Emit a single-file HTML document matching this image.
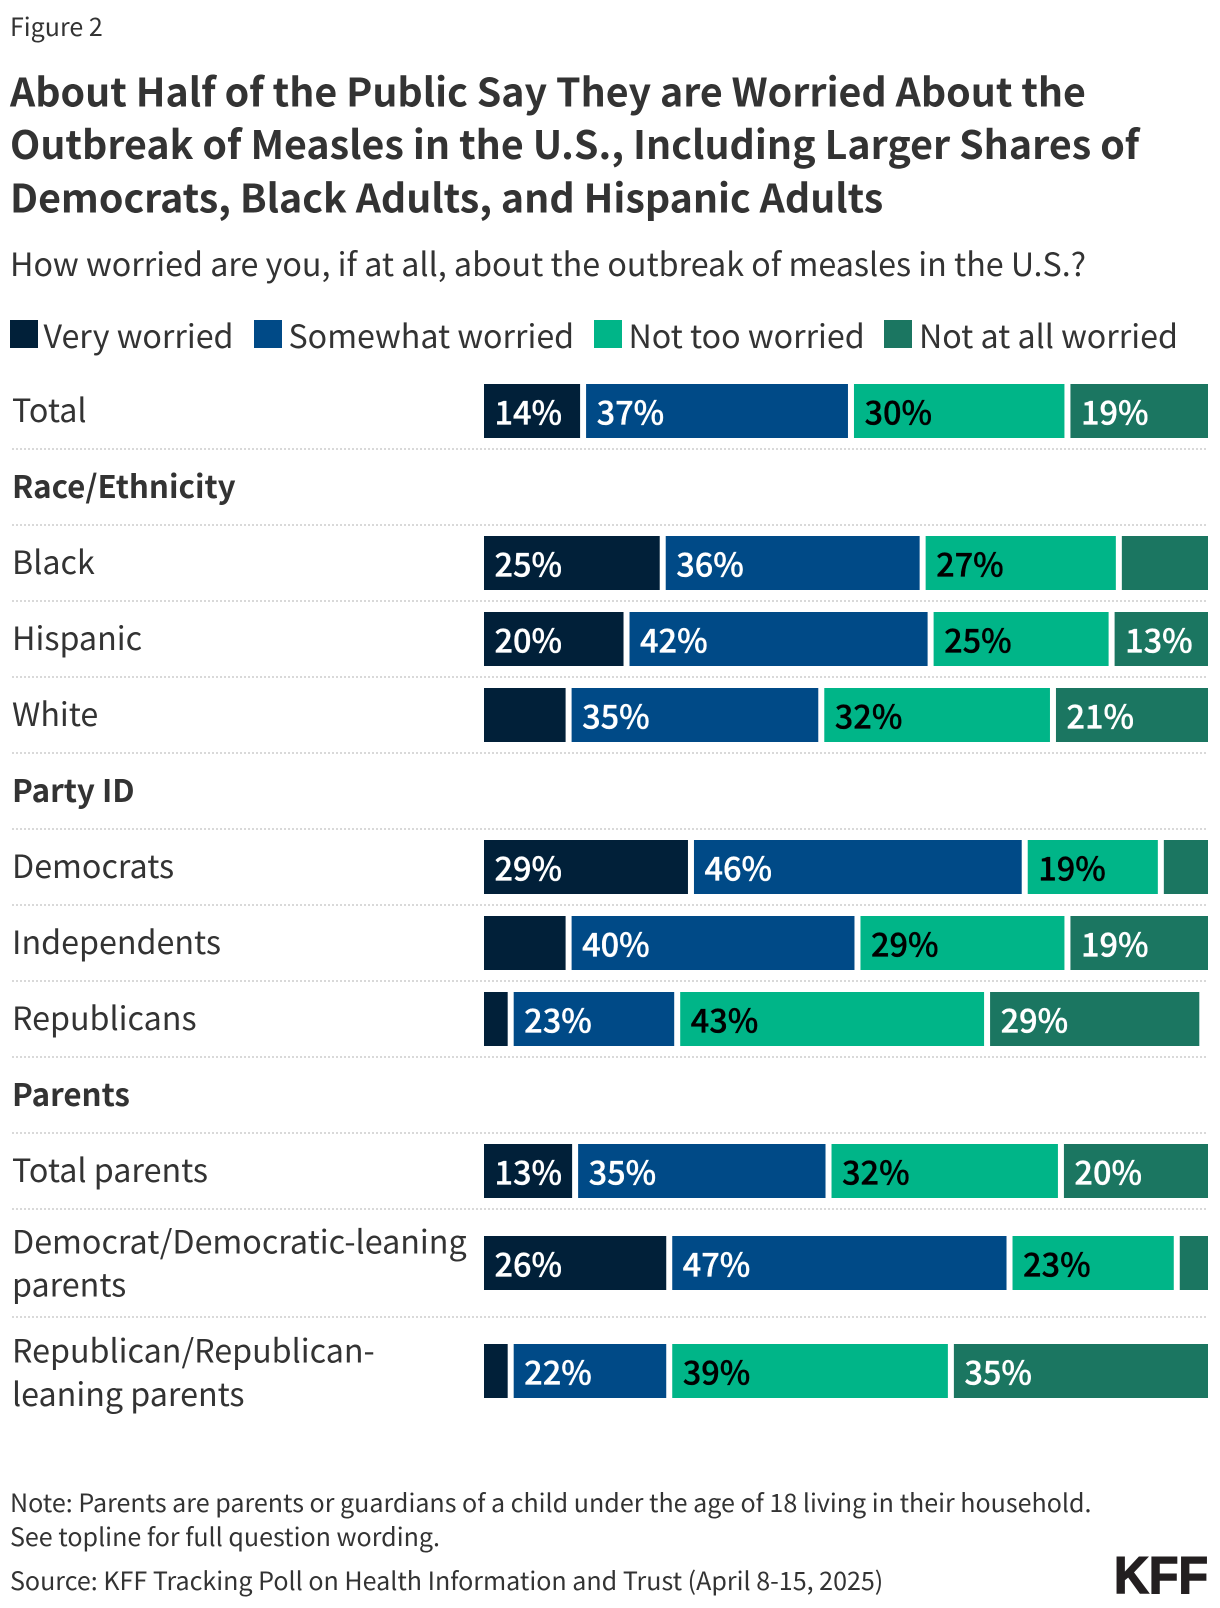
<!DOCTYPE html>
<html lang="en">
<head>
<meta charset="utf-8">
<title>About Half of the Public Say They are Worried About the Outbreak of Measles</title>
<style>
  html, body { margin: 0; padding: 0; background: #fff; }
  svg { display: block; }
  text { font-family: "Noto Sans CJK JP", "Liberation Sans", sans-serif; fill: #333; }
  .title { font-size: 39.35px; font-weight: 700; }
  .subtitle { font-size: 32.25px; font-weight: 400; }
  .legend { font-size: 32.2px; font-weight: 400; }
  .row { font-size: 32.25px; font-weight: 400; }
  .head { font-size: 31.3px; font-weight: 700; }
  .value { font-size: 32.5px; font-weight: 500; stroke-width: 0.35px; }
  .note { font-size: 25.05px; font-weight: 400; }
</style>
</head>
<body>
<svg id="chart" xmlns="http://www.w3.org/2000/svg" width="1220" height="1608" viewBox="0 0 1220 1608">
  <rect x="0" y="0" width="1220" height="1608" fill="#ffffff"/>
  <text x="10" y="36" font-size="25">Figure 2</text>
  <g>
    <text class="title" x="10" y="106.5">About Half of the Public Say They are Worried About the</text>
    <text class="title" x="10" y="159" letter-spacing="0.03">Outbreak of Measles in the U.S., Including Larger Shares of</text>
    <text class="title" x="10" y="212.5">Democrats, Black Adults, and Hispanic Adults</text>
  </g>
  <text class="subtitle" x="10" y="276">How worried are you, if at all, about the outbreak of measles in the U.S.?</text>

  <g>
    <rect x="10" y="320" width="28" height="28" fill="#012039"/>
    <text class="legend" x="43.5" y="348">Very worried</text>
    <rect x="254" y="320" width="28" height="28" fill="#004A87"/>
    <text class="legend" x="288.5" y="348">Somewhat worried</text>
    <rect x="594" y="320" width="28" height="28" fill="#00B588"/>
    <text class="legend" x="628.5" y="348">Not too worried</text>
    <rect x="884" y="320" width="28" height="28" fill="#1B7661"/>
    <text class="legend" x="919" y="348">Not at all worried</text>
  </g>

  <g id="dividers"></g>

  <g>
    <text class="row" x="12" y="422">Total</text>
    <text class="head" x="12" y="498">Race/Ethnicity</text>
    <text class="row" x="12" y="574">Black</text>
    <text class="row" x="12" y="650">Hispanic</text>
    <text class="row" x="12" y="726">White</text>
    <text class="head" x="12" y="802">Party ID</text>
    <text class="row" x="12" y="878">Democrats</text>
    <text class="row" x="12" y="954">Independents</text>
    <text class="row" x="12" y="1030">Republicans</text>
    <text class="head" x="12" y="1106">Parents</text>
    <text class="row" x="12" y="1182">Total parents</text>
    <text class="row" x="12" y="1253.5">Democrat/Democratic-leaning</text>
    <text class="row" x="12" y="1296.5">parents</text>
    <text class="row" x="12" y="1362.5">Republican/Republican-</text>
    <text class="row" x="12" y="1406">leaning parents</text>
  </g>

  <g id="bars"></g>

  <g>
    <text class="note" x="10" y="1512">Note: Parents are parents or guardians of a child under the age of 18 living in their household.</text>
    <text class="note" x="10" y="1546">See topline for full question wording.</text>
    <text class="note" x="10" y="1590">Source: KFF Tracking Poll on Health Information and Trust (April 8-15, 2025)</text>
  </g>
  <text x="1114" y="1593" font-size="52" textLength="94" lengthAdjust="spacingAndGlyphs" style="font-family:'Liberation Sans',sans-serif;font-weight:700;fill:#231f20;stroke:#231f20;stroke-width:1.5">KFF</text>
</svg>
<script>
// Chart data: one entry per bar row, top to bottom.
const categories = ["Total", "Black", "Hispanic", "White", "Democrats", "Independents", "Republicans", "Total parents", "Democrat/Democratic-leaning parents", "Republican/Republican-leaning parents"];
const veryWorried = [14.1, 25.1, 20.1, 12.1, 29, 12.1, 4.1, 13, 26, 4.1];
const somewhatWorried = [37, 35.9, 42, 34.9, 46.1, 39.9, 23, 35, 47, 21.9];
const notTooWorried = [29.9, 27.1, 25, 32, 18.8, 29, 42.8, 32.1, 23.1, 38.9];
const notAtAllWorried = [19, 11.9, 12.9, 21, 6.1, 19, 28.9, 19.9, 3.9, 35.1];
const seriesNames = ["very-worried", "somewhat-worried", "not-too-worried", "not-at-all-worried"];
const seriesValues = [veryWorried, somewhatWorried, notTooWorried, notAtAllWorried];
const seriesColors = ["#012039", "#004A87", "#00B588", "#1B7661"];
const labelColors = ["#ffffff", "#ffffff", "#000000", "#ffffff"];

// Layout (not data).
const NS = "http://www.w3.org/2000/svg";
const PLOT_LEFT = 484;
const PLOT_WIDTH = 724;
const BAR_HEIGHT = 54;
const GAP = 6;
const LABEL_MIN = 12.5;
const rowTops = [384, 536, 612, 688, 840, 916, 992, 1144, 1236, 1344];
const dividerYs = [449, 525, 601, 677, 753, 829, 905, 981, 1057, 1133, 1209, 1317];

function xScale(v) {
  return v * PLOT_WIDTH / 100;
}

const barsLayer = document.getElementById("bars");
categories.forEach(function (category, r) {
  const rowGroup = document.createElementNS(NS, "g");
  
  
  let cumulative = 0;
  seriesValues.forEach(function (series, s) {
    const value = series[r];
    const start = PLOT_LEFT + xScale(cumulative);
    const isLast = s === seriesValues.length - 1;
    const width = xScale(value) - (isLast ? 0 : GAP);
    const rect = document.createElementNS(NS, "rect");
    
    
    rect.setAttribute("x", start);
    rect.setAttribute("y", rowTops[r]);
    rect.setAttribute("width", width);
    rect.setAttribute("height", BAR_HEIGHT);
    rect.setAttribute("fill", seriesColors[s]);
    rowGroup.appendChild(rect);
    if (value >= LABEL_MIN) {
      const label = document.createElementNS(NS, "text");
      
      
      label.setAttribute("class", "value");
      label.setAttribute("x", start + 10.5);
      label.setAttribute("y", rowTops[r] + 40.5);
      label.style.fill = labelColors[s];
      label.style.stroke = labelColors[s];
      label.textContent = Math.round(value) + "%";
      rowGroup.appendChild(label);
    }
    cumulative += value;
  });
  barsLayer.appendChild(rowGroup);
});

const dividerLayer = document.getElementById("dividers");
dividerYs.forEach(function (y) {
  const line = document.createElementNS(NS, "line");
  
  
  line.setAttribute("x1", 12);
  line.setAttribute("x2", 1208);
  line.setAttribute("y1", y);
  line.setAttribute("y2", y);
  line.setAttribute("stroke", "#d9d9d9");
  line.setAttribute("stroke-width", 2);
  line.setAttribute("stroke-dasharray", "2 2");
  dividerLayer.appendChild(line);
});
</script>
</body>
</html>
